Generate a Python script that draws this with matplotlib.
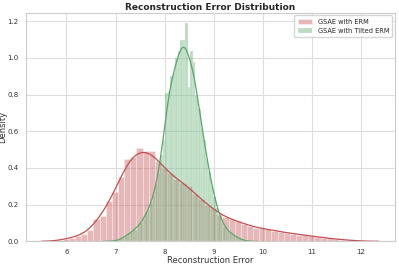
import numpy as np
import matplotlib
matplotlib.use("Agg")
import matplotlib.pyplot as plt
import seaborn as sns

# histogram bins (50 each, as distplot would pick) and density heights
erm_range = (5.80, 12.05)
erm_density = [0.008, 0.012, 0.020, 0.030, 0.040, 0.060, 0.120, 0.140, 0.220, 0.270,
               0.350, 0.450, 0.460, 0.510, 0.490, 0.490, 0.440, 0.400, 0.370, 0.340,
               0.320, 0.300, 0.260, 0.230, 0.200, 0.180, 0.150, 0.130, 0.120, 0.110,
               0.095, 0.085, 0.075, 0.070, 0.065, 0.058, 0.052, 0.047, 0.042, 0.037,
               0.033, 0.029, 0.024, 0.020, 0.016, 0.012, 0.009, 0.006, 0.004, 0.002]

tilted_range = (7.04, 9.60)
tilted_density = [0.010, 0.010, 0.020, 0.030, 0.040, 0.050, 0.070, 0.060, 0.090, 0.100,
                  0.120, 0.160, 0.170, 0.210, 0.250, 0.310, 0.370, 0.470, 0.550, 0.810,
                  0.820, 0.900, 0.920, 1.000, 1.040, 1.100, 1.100, 1.190, 0.840, 1.040,
                  0.980, 0.800, 0.720, 0.620, 0.550, 0.450, 0.380, 0.300, 0.240, 0.180,
                  0.140, 0.100, 0.080, 0.060, 0.050, 0.040, 0.030, 0.020, 0.015, 0.010]

labels = ["GSAE with ERM", "GSAE with Tilted ERM"]
colors = ["#C44E52", "#55A868"]

sns.set_style("whitegrid")
plt.rcParams["font.family"] = ["DejaVu Sans"]

fig = plt.figure(figsize=(3.99, 2.64), dpi=100)
ax = fig.add_axes([0.065, 0.086, 0.925, 0.866])

# (range, heights, bw_adjust, cut, bar edge width)
series = [(erm_range, erm_density, 0.30, 1.5, 0.6),
          (tilted_range, tilted_density, 0.45, 2.0, 0.35)]
for (rng, dens, bw, cut, elw), lab, col in zip(series, labels, colors):
    edges = np.linspace(rng[0], rng[1], len(dens) + 1)
    centers = (edges[:-1] + edges[1:]) / 2
    ax.bar(edges[:-1], dens, width=np.diff(edges), align="edge", color=col,
           alpha=0.4, edgecolor="white", linewidth=elw, label=lab)
    sns.kdeplot(x=centers, weights=dens, bw_adjust=bw, cut=cut, ax=ax,
                color=col, linewidth=0.9)

ax.set_xlim(5.175, 12.69)
ax.set_ylim(0, 1.247)
ax.set_xticks([6, 7, 8, 9, 10, 11, 12])
ax.set_yticks([0.0, 0.2, 0.4, 0.6, 0.8, 1.0, 1.2])
ax.tick_params(labelsize=5, pad=2, colors="#333333")
ax.grid(color="#dddddd", linewidth=0.8)
for s in ax.spines.values():
    s.set_color("#cccccc")
    s.set_linewidth(0.8)

ax.set_title("Reconstruction Error Distribution", fontsize=6.5, fontweight="bold",
             color="#262626", pad=2)
ax.set_xlabel("Reconstruction Error", fontsize=6, labelpad=1, color="#333333")
ax.set_ylabel("Density", fontsize=6, color="#333333")
ax.yaxis.set_label_coords(-0.05, 0.5)
ax.legend(loc="upper right", fontsize=4.8, frameon=True, handlelength=2.2,
          borderpad=0.5, labelspacing=0.5, borderaxespad=0.4)

fig.savefig("out.png", dpi=100)
